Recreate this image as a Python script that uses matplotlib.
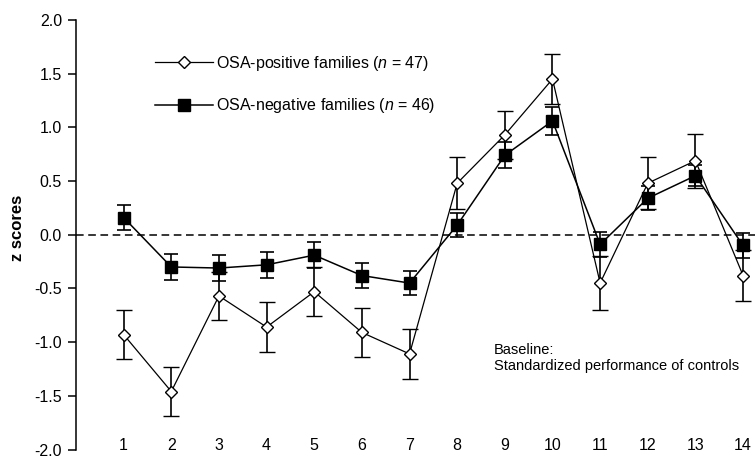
import matplotlib
matplotlib.use("Agg")
import matplotlib.pyplot as plt
from matplotlib.lines import Line2D

plt.rcParams['font.family'] = ['Liberation Sans', 'DejaVu Sans']
plt.rcParams['mathtext.fontset'] = 'custom'
plt.rcParams['mathtext.rm'] = 'Liberation Sans'
plt.rcParams['mathtext.it'] = 'Liberation Sans:italic'

# ---- data ----
tests = list(range(1, 15))
tick_labels = [str(t) for t in tests]
pos_mean = [-0.93, -1.46, -0.57, -0.86, -0.53, -0.91, -1.11, 0.48, 0.93, 1.45, -0.45, 0.48, 0.69, -0.38]
pos_se = [0.23, 0.23, 0.22, 0.23, 0.23, 0.23, 0.235, 0.24, 0.22, 0.23, 0.25, 0.24, 0.25, 0.24]
neg_mean = [0.16, -0.30, -0.31, -0.28, -0.19, -0.38, -0.45, 0.09, 0.74, 1.06, -0.09, 0.34, 0.55, -0.10]
neg_se = [0.12, 0.12, 0.12, 0.12, 0.12, 0.12, 0.11, 0.11, 0.12, 0.13, 0.12, 0.11, 0.10, 0.12]
pos_label = 'OSA-positive families ($n$ = 47)'
neg_label = 'OSA-negative families ($n$ = 46)'
yticks = [2.0, 1.5, 1.0, 0.5, 0.0, -0.5, -1.0, -1.5, -2.0]
ytick_labels = ['2.0', '1.5', '1.0', '0.5', '0.0', '-0.5', '-1.0', '-1.5', '-2.0']

W, H = 755, 457
fig = plt.figure(figsize=(W / 100, H / 100), dpi=100)
ax_bottom = 7.5
ax_top_px = 20  # distance of the axes top from the figure top
ax_h = H - ax_bottom - ax_top_px
ax = fig.add_axes([76 / W, ax_bottom / H, 679 / W, ax_h / H])

ax.axhline(0, color='black', lw=1.1, ls=(0, (5, 3)), zorder=1)

neg_style = dict(color='black', lw=1.1, marker='s', markersize=9,
                 markerfacecolor='black', markeredgecolor='black')
pos_style = dict(color='black', lw=0.9, marker='D', markersize=6.5,
                 markerfacecolor='white', markeredgecolor='black', markeredgewidth=1.0)

ax.errorbar(tests, neg_mean, yerr=neg_se, elinewidth=1.2, capsize=5, capthick=1.2,
            zorder=3, **neg_style)
ax.errorbar(tests, pos_mean, yerr=pos_se, elinewidth=1.2, capsize=5.5, capthick=1.2,
            zorder=4, **pos_style)

ax.set_xlim(0, 14.25)
ax.set_ylim(-2.0, 2.0)
ax.set_yticks(yticks)
ax.set_yticklabels(ytick_labels, fontsize=11.5)
ax.set_xticks(tests)
ax.set_xticklabels(tick_labels, fontsize=11.5)
ax.tick_params(axis='x', length=0, pad=-8)
ax.tick_params(axis='y', direction='out', length=6, width=1.1, pad=4)

for s in ['top', 'right', 'bottom']:
    ax.spines[s].set_visible(False)
ax.spines['left'].set_linewidth(1.1)

fig.text(18 / W, 1 - 228 / H, 'z scores', rotation=90, fontsize=12,
         fontweight='bold', ha='center', va='center')

legend_top_px = 54  # from the figure top
handles = [Line2D([], [], **pos_style), Line2D([], [], **neg_style)]
ax.legend(handles, [pos_label, neg_label], loc='upper left',
          bbox_to_anchor=((155 - 76) / 679, 1 - (legend_top_px - ax_top_px) / ax_h),
          frameon=False, fontsize=11.5, handlelength=3.6, handletextpad=0.2,
          labelspacing=1.45, borderpad=0, borderaxespad=0)

fig.text(494 / W, 1 - 350 / H, 'Baseline:', fontsize=10.5, ha='left', va='center')
fig.text(494 / W, 1 - 366 / H, 'Standardized performance of controls',
         fontsize=10.5, ha='left', va='center')

fig.savefig('out.png', dpi=100)
